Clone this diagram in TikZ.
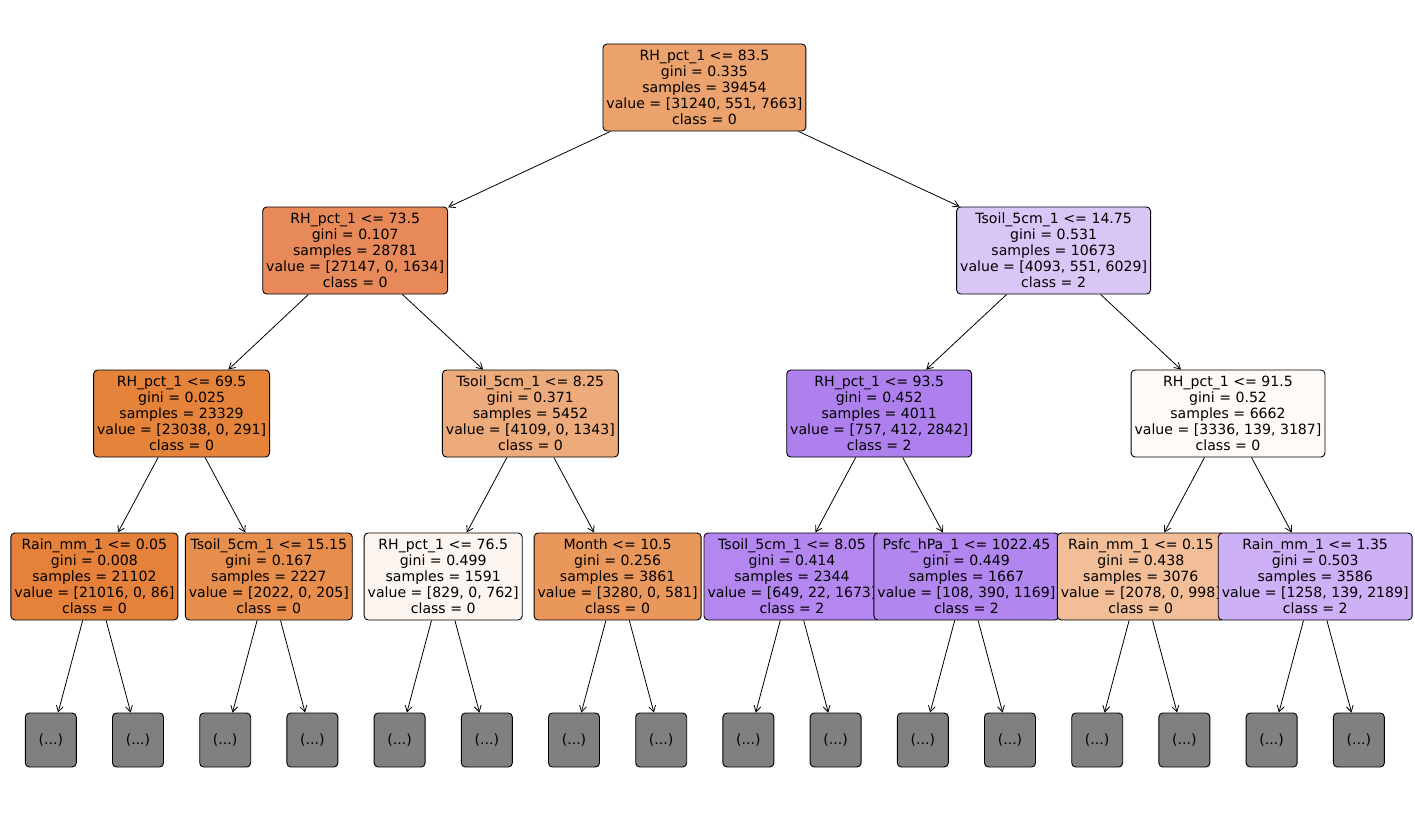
\documentclass[tikz,border=0pt]{standalone}
\usepackage{fontspec}
\setmainfont{DejaVu Sans}
\usetikzlibrary{arrows.meta}
\definecolor{cRoot}{RGB}{236,162,108}
\definecolor{cL}{RGB}{231,137,89}
\definecolor{cR}{RGB}{218,197,247}
\definecolor{cLL}{RGB}{229,131,59}
\definecolor{cLR}{RGB}{237,170,122}
\definecolor{cRL}{RGB}{174,128,238}
\definecolor{cRR}{RGB}{254,250,247}
\definecolor{cLLL}{RGB}{229,129,58}
\definecolor{cLLR}{RGB}{232,142,77}
\definecolor{cLRL}{RGB}{253,245,239}
\definecolor{cLRR}{RGB}{234,151,92}
\definecolor{cRLL}{RGB}{179,135,239}
\definecolor{cRLR}{RGB}{178,134,239}
\definecolor{cRRL}{RGB}{242,190,152}
\definecolor{cRRR}{RGB}{205,176,245}
\definecolor{cLeaf}{RGB}{128,128,128}
\begin{document}
\begin{tikzpicture}[x=1pt,y=-1pt,
  tn/.style={draw=black, line width=0.9pt, rounded corners=4pt, inner xsep=3.5pt, inner ysep=0pt,
    minimum height=87pt, align=center, font=\fontsize{14.1}{16.1}\selectfont},
  leafbox/.style={draw=black, line width=0.9pt, rounded corners=4pt, fill=cLeaf,
    minimum width=51pt, minimum height=54pt, inner sep=0pt, font=\fontsize{14.1}{16.1}\selectfont},
  arr/.style={draw=black, line width=0.8pt, -{Straight Barb[length=6pt,width=7pt]}}]
\useasboundingbox (0,0) rectangle (1415,829);

\node[tn, fill=cRoot] (n0) at (704.4,87.5) {RH\_pct\_1 <= 83.5\\gini = 0.335\\samples = 39454\\value = [31240, 551, 7663]\\class = 0};
\node[tn, fill=cL] (n1) at (355.2,250.5) {RH\_pct\_1 <= 73.5\\gini = 0.107\\samples = 28781\\value = [27147, 0, 1634]\\class = 0};
\node[tn, fill=cLL] (n2) at (181.6,413.5) {RH\_pct\_1 <= 69.5\\gini = 0.025\\samples = 23329\\value = [23038, 0, 291]\\class = 0};
\node[tn, fill=cLLL] (n3) at (94.4,576.5) {Rain\_mm\_1 <= 0.05\\gini = 0.008\\samples = 21102\\value = [21016, 0, 86]\\class = 0};
\node[leafbox] (f0) at (50.8,740) {(...)};
\node[leafbox] (f1) at (138.0,740) {(...)};
\node[tn, fill=cLLR] (n4) at (268.8,576.5) {Tsoil\_5cm\_1 <= 15.15\\gini = 0.167\\samples = 2227\\value = [2022, 0, 205]\\class = 0};
\node[leafbox] (f2) at (225.2,740) {(...)};
\node[leafbox] (f3) at (312.4,740) {(...)};
\node[tn, fill=cLR] (n5) at (530.4,413.5) {Tsoil\_5cm\_1 <= 8.25\\gini = 0.371\\samples = 5452\\value = [4109, 0, 1343]\\class = 0};
\node[tn, fill=cLRL] (n6) at (443.2,576.5) {RH\_pct\_1 <= 76.5\\gini = 0.499\\samples = 1591\\value = [829, 0, 762]\\class = 0};
\node[leafbox] (f4) at (399.6,740) {(...)};
\node[leafbox] (f5) at (486.8,740) {(...)};
\node[tn, fill=cLRR] (n7) at (617.6,576.5) {Month <= 10.5\\gini = 0.256\\samples = 3861\\value = [3280, 0, 581]\\class = 0};
\node[leafbox] (f6) at (574.0,740) {(...)};
\node[leafbox] (f7) at (661.2,740) {(...)};
\node[tn, fill=cR] (n8) at (1053.6,250.5) {Tsoil\_5cm\_1 <= 14.75\\gini = 0.531\\samples = 10673\\value = [4093, 551, 6029]\\class = 2};
\node[tn, fill=cRL] (n9) at (879.2,413.5) {RH\_pct\_1 <= 93.5\\gini = 0.452\\samples = 4011\\value = [757, 412, 2842]\\class = 2};
\node[tn, fill=cRLL] (n10) at (792.0,576.5) {Tsoil\_5cm\_1 <= 8.05\\gini = 0.414\\samples = 2344\\value = [649, 22, 1673]\\class = 2};
\node[leafbox] (f8) at (748.4,740) {(...)};
\node[leafbox] (f9) at (835.6,740) {(...)};
\node[tn, fill=cRLR] (n11) at (966.4,576.5) {Psfc\_hPa\_1 <= 1022.45\\gini = 0.449\\samples = 1667\\value = [108, 390, 1169]\\class = 2};
\node[leafbox] (f10) at (922.8,740) {(...)};
\node[leafbox] (f11) at (1010.0,740) {(...)};
\node[tn, fill=cRR] (n12) at (1228.0,413.5) {RH\_pct\_1 <= 91.5\\gini = 0.52\\samples = 6662\\value = [3336, 139, 3187]\\class = 0};
\node[tn, fill=cRRL] (n13) at (1140.8,576.5) {Rain\_mm\_1 <= 0.15\\gini = 0.438\\samples = 3076\\value = [2078, 0, 998]\\class = 0};
\node[leafbox] (f12) at (1097.2,740) {(...)};
\node[leafbox] (f13) at (1184.4,740) {(...)};
\node[tn, fill=cRRR] (n14) at (1315.2,576.5) {Rain\_mm\_1 <= 1.35\\gini = 0.503\\samples = 3586\\value = [1258, 139, 2189]\\class = 2};
\node[leafbox] (f14) at (1271.6,740) {(...)};
\node[leafbox] (f15) at (1358.8,740) {(...)};

\draw[arr] (n0) -- (n1);
\draw[arr] (n0) -- (n8);
\draw[arr] (n1) -- (n2);
\draw[arr] (n1) -- (n5);
\draw[arr] (n2) -- (n3);
\draw[arr] (n2) -- (n4);
\draw[arr] (n5) -- (n6);
\draw[arr] (n5) -- (n7);
\draw[arr] (n8) -- (n9);
\draw[arr] (n8) -- (n12);
\draw[arr] (n9) -- (n10);
\draw[arr] (n9) -- (n11);
\draw[arr] (n12) -- (n13);
\draw[arr] (n12) -- (n14);
\draw[arr] (n3) -- (f0);
\draw[arr] (n3) -- (f1);
\draw[arr] (n4) -- (f2);
\draw[arr] (n4) -- (f3);
\draw[arr] (n6) -- (f4);
\draw[arr] (n6) -- (f5);
\draw[arr] (n7) -- (f6);
\draw[arr] (n7) -- (f7);
\draw[arr] (n10) -- (f8);
\draw[arr] (n10) -- (f9);
\draw[arr] (n11) -- (f10);
\draw[arr] (n11) -- (f11);
\draw[arr] (n13) -- (f12);
\draw[arr] (n13) -- (f13);
\draw[arr] (n14) -- (f14);
\draw[arr] (n14) -- (f15);
\end{tikzpicture}
\end{document}
